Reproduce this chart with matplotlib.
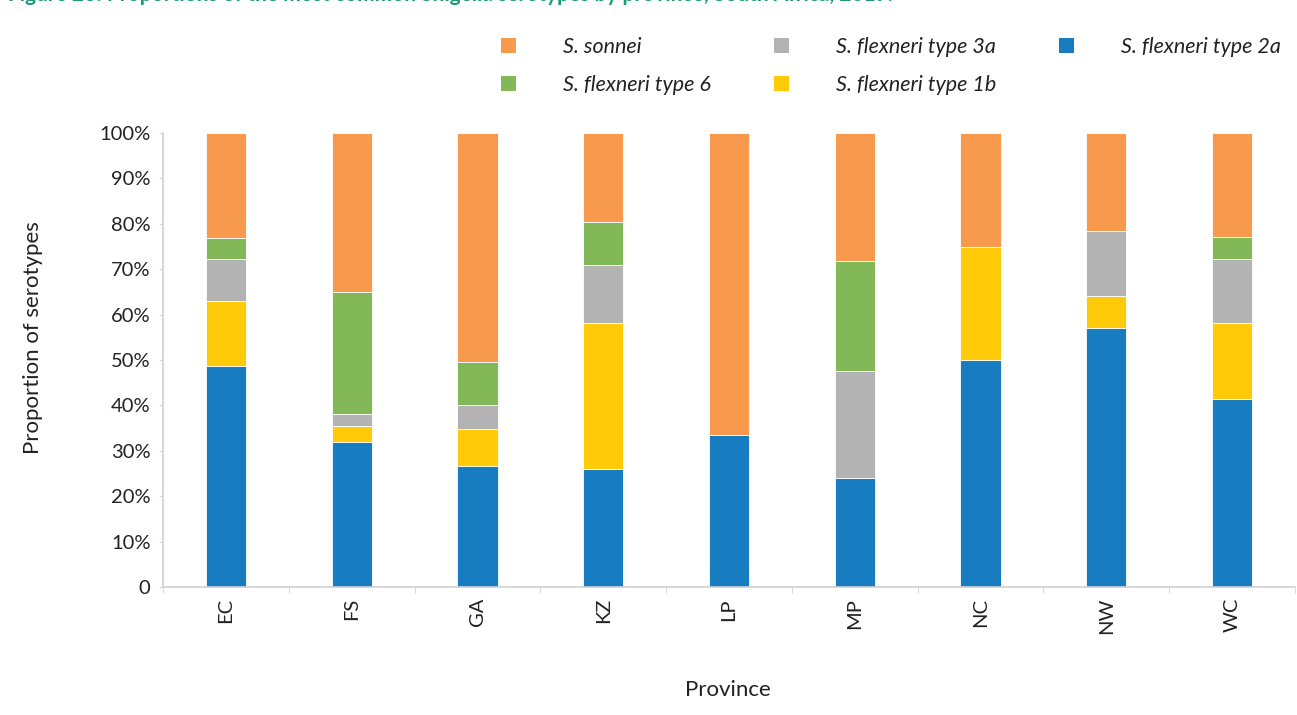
import matplotlib
matplotlib.use("Agg")
import matplotlib.pyplot as plt
import numpy as np
from matplotlib.patches import Patch

plt.rcParams['font.family'] = ['Lato', 'DejaVu Sans']

provinces = ["EC", "FS", "GA", "KZ", "LP", "MP", "NC", "NW", "WC"]
flex_2a = [48.7, 32.0, 26.6, 25.9, 33.4, 23.9, 50.0, 57.1, 41.4]
flex_1b = [14.2, 3.4, 8.1, 32.3, 0.0, 0.0, 25.0, 7.1, 16.8]
flex_3a = [9.3, 2.6, 5.3, 12.7, 0.0, 23.7, 0.0, 14.3, 14.0]
flex_6 = [4.7, 26.9, 9.5, 9.4, 0.0, 24.1, 0.0, 0.0, 4.8]
sonnei = [23.1, 35.1, 50.5, 19.7, 66.6, 28.3, 25.0, 21.5, 23.0]

series = [
    ("S. flexneri type 2a", flex_2a, "#187CC1"),
    ("S. flexneri type 1b", flex_1b, "#FFCA08"),
    ("S. flexneri type 3a", flex_3a, "#B3B3B3"),
    ("S. flexneri type 6", flex_6, "#82B858"),
    ("S. sonnei", sonnei, "#F79A4E"),
]

W, H = 1297, 715
fig = plt.figure(figsize=(W / 100, H / 100), dpi=100)
ax = fig.add_axes([163 / W, 1 - 587 / H, (1295 - 163) / W, (587 - 133) / H])

x = np.arange(len(provinces))
bottom = np.zeros(len(provinces))
handles = {}
for name, vals, col in series:
    v = np.array(vals)
    ax.bar(x, v, width=0.32, bottom=bottom, color=col, edgecolor="white",
           linewidth=0.6)
    bottom += v
    handles[name] = Patch(facecolor=col, edgecolor="none")

ax.set_xlim(-0.5, len(provinces) - 0.5)
ax.set_ylim(0, 100)
ax.set_yticks(np.arange(0, 101, 10))
ax.set_yticklabels(["0"] + [f"{v}%" for v in range(10, 101, 10)])
ax.set_xticks(x)
ax.set_xticklabels(provinces, rotation=90)
ax.set_xticks(np.arange(-0.5, len(provinces), 1), minor=True)
ax.tick_params(axis="x", which="major", length=0, pad=8, labelsize=14.5, colors="#222222")
ax.tick_params(axis="x", which="minor", length=4, color="#d0d0d0")
ax.tick_params(axis="y", length=3, color="#d9d9d9", labelsize=14.5, pad=6, labelcolor="#222222")
for s in ["top", "right"]:
    ax.spines[s].set_visible(False)
for s in ["left", "bottom"]:
    ax.spines[s].set_color("#d0d0d0")
    ax.spines[s].set_linewidth(1.2)

fig.text(728 / W, 1 - 690 / H, "Province", ha="center", va="center", fontsize=16, color="#222222")
fig.text(33 / W, 1 - 338 / H, "Proportion of serotypes", ha="center", va="center",
         rotation=90, fontsize=16, color="#222222")

fig.text(8 / W, 1 - 1 / H,
         "Figure 23: Proportions of the most common Shigella serotypes by province, South Africa, 2019.",
         ha="left", va="baseline", fontsize=15, fontweight="bold", color="#1A9B78")

order = ["S. sonnei", "S. flexneri type 6", "S. flexneri type 3a",
         "S. flexneri type 1b", "S. flexneri type 2a"]
leg = fig.legend([handles[n] for n in order], order, ncol=3, loc="upper left",
                 bbox_to_anchor=(501 / W, 1 - 37 / H), frameon=False,
                 prop={"style": "italic", "size": 15.5}, handlelength=0.7,
                 handleheight=0.7, handletextpad=2.2, columnspacing=2.9,
                 labelspacing=0.85, borderaxespad=0, borderpad=0)
for t in leg.get_texts():
    t.set_color("#222222")

fig.savefig("out.png", dpi=100)
